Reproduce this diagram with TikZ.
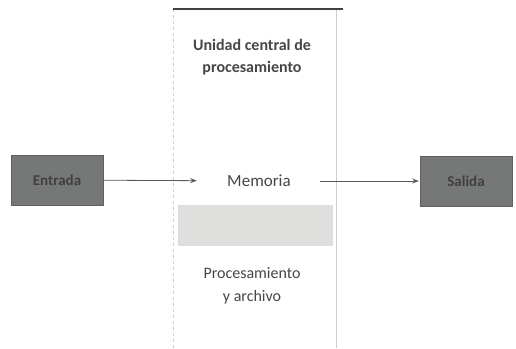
\documentclass[tikz,border=0pt]{standalone}
\usepackage{fontspec}
\setmainfont{Carlito}
\usetikzlibrary{arrows.meta, positioning}
\definecolor{boxgray}{RGB}{118, 120, 120}
\definecolor{bandgray}{RGB}{222, 222, 220}
\definecolor{edgegray}{RGB}{205, 205, 205}
\definecolor{textgray}{RGB}{70, 70, 70}

\begin{document}
\begin{tikzpicture}[x=1pt, y=-1pt, >=Stealth,
  iobox/.style={draw=boxgray!80!black, fill=boxgray, minimum width=92pt, minimum height=50pt, font=\bfseries\fontsize{15}{17}\selectfont, text=black!75},
  label/.style={font=\fontsize{17}{22}\selectfont, text=textgray, align=center},
  flow/.style={->, thick, draw=black!65, shorten >=1pt}]
  \useasboundingbox (0,0) rectangle (516,348);

  % central column
  \fill[white] (173,9) rectangle (337,348);
  \fill[bandgray] (178,205) rectangle (333,246);
  \draw[edgegray, dashed, thick] (173,9) -- (173,348);
  \draw[edgegray, thick] (336,9) -- (336,348);
  \draw[black!75, line width=1.4pt] (173,9) -- (343,9);

  % texts in the column
  \node[label, font=\bfseries\fontsize{16}{22}\selectfont] (cpu) at (252,57) {Unidad central de\\procesamiento};
  \node[label, minimum width=122pt] (memoria) at (259,181) {Memoria};
  \node[label, font=\fontsize{16}{23}\selectfont] (archivo) at (252,286) {Procesamiento\\y archivo};

  % input / output
  \node[iobox] (entrada) at (57,180) {Entrada};
  \node[iobox] (salida) at (466,181) {Salida};

  \draw[flow] (entrada) -- (memoria);
  \draw[flow] (memoria) -- (salida);

\end{tikzpicture}
\end{document}
